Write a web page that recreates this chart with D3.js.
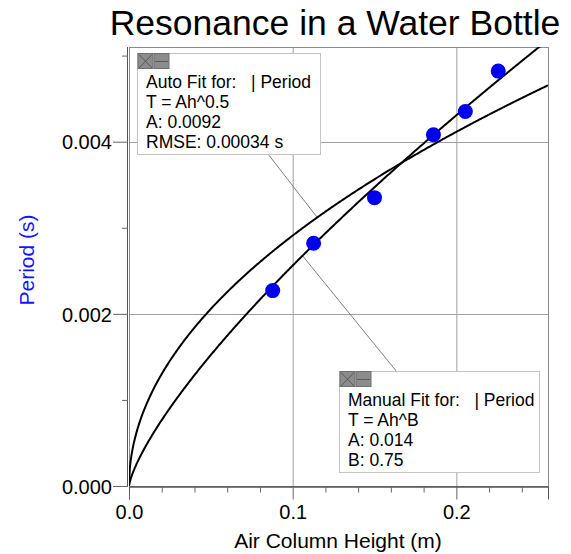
<!DOCTYPE html>
<html><head><meta charset="utf-8">
<script src="https://cdn.jsdelivr.net/npm/d3@7"></script>
<style>
body{margin:0;background:#fff;}
svg{display:block;font-family:"Liberation Sans",Arial,sans-serif;}
</style></head>
<body><svg id="c" width="571" height="554"></svg>
<script>
// ---- data ----
const heights = [0.0878, 0.1128, 0.150, 0.186, 0.2055, 0.2256];
const periods = [0.00227, 0.00282, 0.00335, 0.00408, 0.00435, 0.00482];
const autoFit = {A: 0.0092, B: 0.5};
const manualFit = {A: 0.0144, B: 0.75};
const xMajorTicks = [0, 0.1, 0.2];
const xTickLabels = ["0.0", "0.1", "0.2"];
const yMajorTicks = [0, 0.002, 0.004];
const yTickLabels = ["0.000", "0.002", "0.004"];
const xMinorTicks = [0.02,0.04,0.06,0.08,0.12,0.14,0.16,0.18,0.22,0.24];
const yMinorTicks = [0.001,0.003,0.005];
const autoLines = ["Auto Fit for:   | Period", "T = Ah^0.5", "A: 0.0092", "RMSE: 0.00034 s"];
const manualLines = ["Manual Fit for:   | Period", "T = Ah^B", "A: 0.014", "B: 0.75"];
const title = "Resonance in a Water Bottle";
const xTitle = "Air Column Height (m)";
const yTitle = "Period (s)";

// ---- layout ----
const L = 129, R = 548, T = 47, B = 486;
const x = d3.scaleLinear().domain([0, 0.256]).range([L, R]);
const y = d3.scaleLinear().domain([0, 0.0051]).range([B, T]);
const svg = d3.select("#c");

svg.append("defs").append("clipPath").attr("id","clip")
  .append("rect").attr("x",L).attr("y",T).attr("width",R-L).attr("height",B-T);

// grid
const g = svg.append("g");
g.selectAll(".vg").data(xMajorTicks.slice(1)).join("line")
  .attr("x1",d=>x(d)+0.5).attr("x2",d=>x(d)+0.5).attr("y1",T).attr("y2",B)
  .attr("stroke","#a0a0a0").attr("stroke-width",1);
g.selectAll(".hg").data(yMajorTicks.slice(1)).join("line")
  .attr("y1",d=>Math.round(y(d))+0.5).attr("y2",d=>Math.round(y(d))+0.5).attr("x1",L).attr("x2",R)
  .attr("stroke","#a0a0a0").attr("stroke-width",1);

// frame
svg.append("rect").attr("x",L+0.5).attr("y",T+0.5).attr("width",R-L).attr("height",B-T)
  .attr("fill","none").attr("stroke","#8a8a8a");
svg.append("line").attr("x1",L-1.5).attr("x2",L-1.5).attr("y1",T).attr("y2",B+1).attr("stroke","#555");

// axes ticks via d3 axes
const xAx = svg.append("g").attr("transform",`translate(0,${B+0.5})`)
  .call(d3.axisBottom(x).tickValues(xMajorTicks).tickSize(13).tickFormat((d,i)=>xTickLabels[i]));
const xMin = svg.append("g").attr("transform",`translate(0,${B+0.5})`)
  .call(d3.axisBottom(x).tickValues(xMinorTicks).tickSize(6).tickFormat(""));
const yAx = svg.append("g").attr("transform",`translate(${L-1},0)`)
  .call(d3.axisLeft(y).tickValues(yMajorTicks).tickSize(15).tickFormat((d,i)=>yTickLabels[i]));
const yMin = svg.append("g").attr("transform",`translate(${L-1},0)`)
  .call(d3.axisLeft(y).tickValues(yMinorTicks).tickSize(6).tickFormat(""));
[xAx,xMin,yAx,yMin].forEach(a=>{
  a.select(".domain").attr("stroke","#555");
  a.selectAll(".tick line").attr("stroke","#666");
  a.selectAll("text").attr("font-family","Liberation Sans, Arial, sans-serif")
    .attr("font-size",20).attr("fill","#000");
});
xAx.selectAll("text").attr("y",18).attr("dy","0.71em");
yAx.selectAll("text").attr("x",-16).attr("dy","0.36em");
yAx.select(".domain").remove(); yMin.select(".domain").remove();

// leader lines (drawn under curves)
function autoF(h){return autoFit.A*Math.pow(h,autoFit.B);}
function manF(h){return manualFit.A*Math.pow(h,manualFit.B);}
svg.append("line").attr("x1",268).attr("y1",154).attr("x2",x(0.115)).attr("y2",y(autoF(0.115)))
  .attr("stroke","#808080").attr("stroke-width",1);
svg.append("line").attr("x1",x(0.106)).attr("y1",y(manF(0.106))).attr("x2",397).attr("y2",372)
  .attr("stroke","#808080").attr("stroke-width",1);

// fit curves
const hs = d3.range(0, 0.2561, 0.0005);
const line = d3.line().x(d=>x(d[0])).y(d=>y(d[1]));
const cg = svg.append("g").attr("clip-path","url(#clip)");
cg.append("path").datum(hs.map(h=>[h,autoF(h)])).attr("d",line)
  .attr("fill","none").attr("stroke","#000").attr("stroke-width",2);
cg.append("path").datum(hs.map(h=>[h,manF(h)])).attr("d",line)
  .attr("fill","none").attr("stroke","#000").attr("stroke-width",2);

// points
svg.selectAll(".pt").data(heights).join("circle")
  .attr("cx",(d)=>x(d)).attr("cy",(d,i)=>y(periods[i])).attr("r",7.5).attr("fill","#0000f0");

// annotation boxes
function box(x0,y0,w,h,lines){
  const b = svg.append("g");
  b.append("rect").attr("x",x0+0.5).attr("y",y0+0.5).attr("width",w).attr("height",h)
    .attr("fill","#fff").attr("stroke","#c4c4c4");
  // icons
  b.append("rect").attr("x",x0+1).attr("y",y0+0.5).attr("width",15).attr("height",15)
    .attr("fill","#8c8c8c").attr("stroke","#707070");
  b.append("path").attr("d",`M${x0+2},${y0+1.5}L${x0+15},${y0+15}M${x0+15},${y0+1.5}L${x0+2},${y0+15}`)
    .attr("stroke","#5a5a5a").attr("stroke-width",1);
  b.append("rect").attr("x",x0+17).attr("y",y0+0.5).attr("width",15).attr("height",15)
    .attr("fill","#8c8c8c").attr("stroke","#707070");
  b.append("line").attr("x1",x0+18).attr("x2",x0+31).attr("y1",y0+8.5).attr("y2",y0+8.5)
    .attr("stroke","#5a5a5a");
  b.selectAll("text").data(lines).join("text")
    .attr("x",x0+9).attr("y",(d,i)=>y0+34.5+i*20).attr("font-size",17.5).attr("fill","#000")
    .attr("xml:space","preserve").style("white-space","pre").text(d=>d);
}
box(137, 53, 183, 101, autoLines);
box(339, 371, 200, 101, manualLines);

// titles
svg.append("text").attr("x",335).attr("y",35).attr("text-anchor","middle")
  .attr("font-size",35.5).attr("fill","#000").text(title);
svg.append("text").attr("x",338).attr("y",548).attr("text-anchor","middle")
  .attr("font-size",21).attr("fill","#000").text(xTitle);
svg.append("text").attr("transform","translate(34,260) rotate(-90)").attr("text-anchor","middle")
  .attr("font-size",21).attr("fill","#1414ff").text(yTitle);
</script></body></html>
